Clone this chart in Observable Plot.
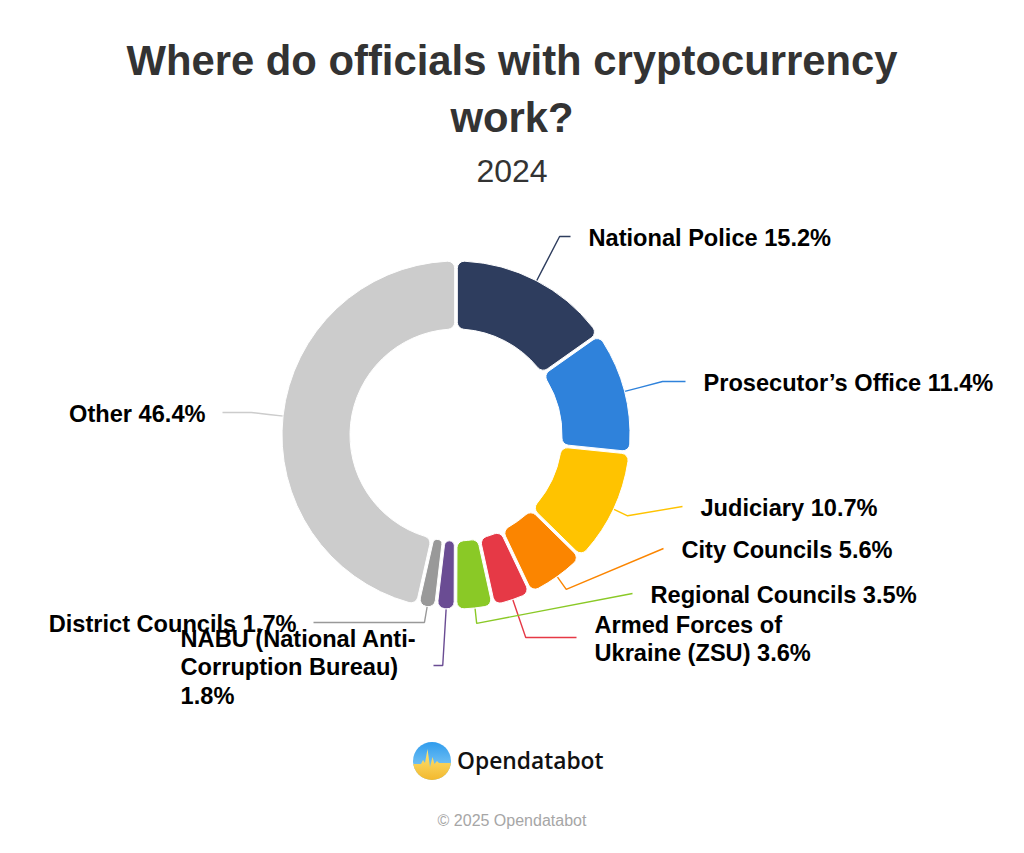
<!DOCTYPE html>
<html><head><meta charset="utf-8">
<script src="https://cdn.jsdelivr.net/npm/d3@7"></script>
<script src="https://cdn.jsdelivr.net/npm/@observablehq/plot@0.6"></script>
<style>
html,body{margin:0;padding:0;background:#fff;}
body{width:1024px;height:853px;position:relative;overflow:hidden;font-family:"Liberation Sans",Arial,sans-serif;}
#title{position:absolute;left:0;top:31.7px;width:1024px;box-sizing:border-box;padding:0 110px;text-align:center;font-size:41.8px;font-weight:bold;line-height:57.7px;color:#333;}
#subtitle{position:absolute;left:0;top:151px;width:1024px;text-align:center;font-size:32px;line-height:40px;color:#333;}
#chart{position:absolute;left:0;top:200px;}
#logo{position:absolute;left:413px;top:742px;}
#logotext{position:absolute;left:457px;top:750px;font-family:"Open Sans",sans-serif;font-weight:600;font-size:22.8px;line-height:22.8px;color:#111;white-space:nowrap;}
#credit{position:absolute;left:0;top:811px;width:1024px;text-align:center;font-size:16px;line-height:20px;color:#a6a6a6;}
</style>
</head>
<body>
<div id="title">Where do officials with cryptocurrency work?</div>
<div id="subtitle">2024</div>
<div id="chart"></div>
<svg id="logo" width="38" height="38" viewBox="0 0 38 38">
  <defs>
    <linearGradient id="gb" x1="0" y1="0" x2="0" y2="1"><stop offset="0" stop-color="#2f9ced"/><stop offset="1" stop-color="#9ad6f7"/></linearGradient>
    <linearGradient id="gy" x1="0" y1="0" x2="0" y2="1"><stop offset="0" stop-color="#fde77a"/><stop offset="1" stop-color="#f3b82e"/></linearGradient>
    <clipPath id="cc"><circle cx="19" cy="19" r="19"/></clipPath>
  </defs>
  <g clip-path="url(#cc)">
    <rect width="38" height="38" fill="url(#gb)"/>
    <path d="M0,22 L8,22 L10,18 L12,21 L14.5,7 L17,25 L19.5,15 L21.5,22 L24,19 L26,21 L38,21 L38,38 L0,38Z" fill="url(#gy)"/>
  </g>
</svg>
<div id="logotext">Opendatabot</div>
<div id="credit">© 2025 Opendatabot</div>
<script>
// ---- data ----
const categories = [
  "National Police",
  "Prosecutor’s Office",
  "Judiciary",
  "City Councils",
  "Armed Forces of Ukraine (ZSU)",
  "Regional Councils",
  "NABU (National Anti-Corruption Bureau)",
  "District Councils",
  "Other"
];
const shares = [15.2, 11.4, 10.7, 5.6, 3.6, 3.5, 1.8, 1.7, 46.4];
const colors = ["#2E3D5E", "#2F82DB", "#FFC300", "#FB8500", "#E63946", "#8AC926", "#6A4C93", "#999999", "#CCCCCC"];

// ---- layout (pixel offsets from the donut centre) ----
const labelAnchorX = [114, 229, 226, 207, 120, 176, -23, -143, -234];
const labelAnchorY = [-199, -54, 71, 113, 202, 158, 230, 187, -23];
const wrapWidth = [0, 0, 0, 0, 250, 0, 250, 0, 0];
const OUTER = 174, INNER = 106, BREAK = 15, TEXT_GAP = 18, TEXT_DY = 0.5;
const FONT_SIZE = 23.6, LINE_H = 1.21;
const FONT = "Liberation Sans";

const fmt = d3.format(".1f");
const ctx = document.createElement("canvas").getContext("2d");
ctx.font = `bold ${FONT_SIZE}px "${FONT}"`;
const measure = s => ctx.measureText(s).width;

function wrap(text, maxW) {
  if (!maxW) return [text];
  const units = [];
  text.split(" ").forEach((w, i) => {
    w.split(/(?<=-)/).forEach((s, j) => units.push({s, sep: (j === 0 && i > 0) ? " " : ""}));
  });
  const lines = []; let cur = "";
  for (const u of units) {
    const cand = cur ? cur + u.sep + u.s : u.s;
    if (cur && measure(cand) > maxW) { lines.push(cur); cur = u.s; } else cur = cand;
  }
  lines.push(cur);
  return lines;
}

const pie = d3.pie().sort(null).value(d => d)(shares);

const connectors = [];
const labels = [];
pie.forEach((p, i) => {
  const a = (p.startAngle + p.endAngle) / 2;
  const ax = labelAnchorX[i], ay = labelAnchorY[i];
  const right = ax > 0;
  const touch = [Math.sin(a) * OUTER, -Math.cos(a) * OUTER];
  const brk = [Math.sin(a) * (OUTER + BREAK), -Math.cos(a) * (OUTER + BREAK)];
  const crookX = -ay * Math.tan(a);
  const pts = [[ax, ay]];
  if (right ? (crookX <= ax && crookX >= brk[0]) : (crookX >= ax && crookX <= brk[0])) pts.push([crookX, ay]);
  pts.push(brk, touch);
  pts.forEach(([x, y]) => connectors.push({name: categories[i], color: colors[i], x, y}));

  const lines = wrap(`${categories[i]} ${fmt(shares[i])}%`, wrapWidth[i]);
  const boxW = d3.max(lines, measure);
  labels.push({
    text: lines.join("\n"),
    x: right ? ax + TEXT_GAP : ax - TEXT_GAP + 1 - boxW,
    y: ay + TEXT_DY
  });
});

function donut(index, scales) {
  const {x, y} = scales;
  const cx = x(0), cy = y(0), k = x(1) - x(0);
  const arc = d3.arc().innerRadius(INNER * k).outerRadius(OUTER * k).cornerRadius(7).padAngle(0.013);
  const g = d3.create("svg:g").attr("transform", `translate(${cx},${cy})`);
  g.selectAll("path").data(pie).join("path")
    .attr("d", arc)
    .attr("fill", (d, i) => colors[i])
    .attr("stroke", "#fff")
    .attr("stroke-width", 1);
  return g.node();
}

const chart = Plot.plot({
  width: 1024,
  height: 520,
  margin: 0,
  x: {domain: [-456, 568], range: [0, 1024], axis: null},
  y: {domain: [-235, 285], range: [0, 520], axis: null},
  color: {type: "identity"},
  style: {background: "transparent", overflow: "visible"},
  marks: [
    Plot.line(connectors, {x: "x", y: "y", z: "name", stroke: "color", strokeWidth: 1.4, strokeLinejoin: "miter", strokeLinecap: "butt"}),
    donut,
    Plot.text(labels, {
      x: "x", y: "y", text: "text",
      textAnchor: "start", lineAnchor: "middle", lineHeight: LINE_H,
      fontSize: FONT_SIZE, fontWeight: "bold", fontFamily: FONT, fill: "#000"
    })
  ]
});
document.getElementById("chart").appendChild(chart);
</script>
</body></html>
